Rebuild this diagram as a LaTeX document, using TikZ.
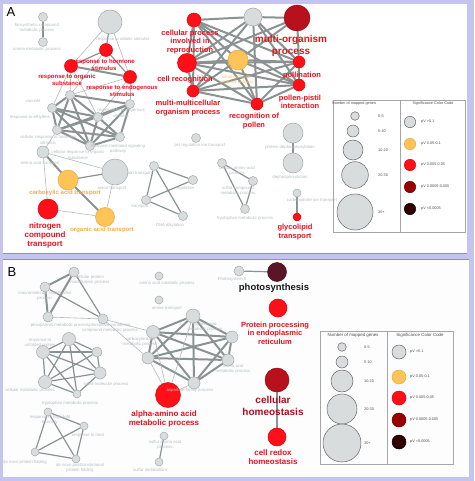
\documentclass[tikz,border=0pt]{standalone}
\usepackage{fontspec}
\setmainfont{Liberation Sans}
\usetikzlibrary{backgrounds}
\definecolor{lav}{HTML}{C4C4EE}
\definecolor{pline}{HTML}{8C8CD8}
\definecolor{gfill}{HTML}{D8DCDC}
\definecolor{gdraw}{HTML}{A4AAAA}
\definecolor{rfill}{HTML}{FF1018}
\definecolor{rdraw}{HTML}{E00010}
\definecolor{ofill}{HTML}{FFC458}
\definecolor{odraw}{HTML}{E8A840}
\definecolor{drfill}{HTML}{B8101C}
\definecolor{dkfill}{HTML}{5A1626}
\definecolor{labred}{HTML}{E8101C}
\definecolor{labdr}{HTML}{A8101C}
\definecolor{labor}{HTML}{F0B040}
\definecolor{faint}{HTML}{B8BEBE}
\definecolor{edgec}{HTML}{8A9292}
\definecolor{edgelt}{HTML}{B4BABA}
\definecolor{legtxt}{HTML}{505050}
\newcommand{\nd}[5]{\node[#5,minimum size=#4*2] (#1) at (#2,#3) {};}
\tikzset{
  ng/.style={circle,inner sep=0pt,fill=gfill,draw=gdraw,line width=0.5pt},
  nr/.style={ng,fill=rfill,draw=rdraw},
  nor/.style={ng,fill=ofill,draw=odraw},
  ndr/.style={ng,fill=drfill,draw=drfill!80!black},
  ndk/.style={ng,fill=dkfill,draw=dkfill!80!black},
  lg/.style={ng,draw=gray!80!black},
  lbl/.style={font=\bfseries\fontsize{7.5}{8.6}\selectfont,text=labred,align=center,inner sep=0pt},
  lbls/.style={font=\bfseries\fontsize{6}{7}\selectfont,text=labred,align=center,inner sep=0pt},
  lblo/.style={font=\bfseries\fontsize{6}{7}\selectfont,text=labor,align=center,inner sep=0pt},
  flbl/.style={font=\fontsize{4.3}{5.2}\selectfont,text=faint,align=center,inner sep=0pt},
  ltx/.style={font=\fontsize{3.8}{4.5}\selectfont,text=legtxt,inner sep=0pt,anchor=west},
  lhd/.style={font=\fontsize{3.8}{4.5}\selectfont,text=legtxt,inner sep=0pt},
  ea/.style={draw=edgec,line width=2pt},
  eb/.style={draw=edgec,line width=1.2pt},
  ec/.style={draw=edgelt,line width=0.6pt},
}
\begin{document}
\begin{tikzpicture}[x=1pt,y=-1pt]
\useasboundingbox (0,0) rectangle (474,481);
\begin{pgfonlayer}{background}
\fill[lav] (0,0) rectangle (474,481);
\fill[white] (3,4) rectangle (467,253);
\draw[pline,line width=0.8pt] (3,253) -- (467,253);
\fill[white!96!lav] (3,259) rectangle (469,477);
\draw[pline,line width=0.8pt] (3,259) -- (469,259);
\end{pgfonlayer}
% ---------------- Panel A ----------------
\node[font=\fontsize{13}{13}\selectfont\rmfamily] (A) at (11,12) {A};
% top-left
\nd{a1}{43}{17}{4.5}{ng}
\nd{a2}{43}{42}{4.5}{ng}
\nd{a3}{110}{22}{12}{ng}
\nd{hor}{106}{50}{6.5}{nr}
\nd{org}{71}{66}{6.5}{nr}
\nd{endo}{130}{77}{6.5}{nr}
\nd{k1}{70}{95}{4.5}{ng}
\nd{k2}{52}{108}{4.5}{ng}
\nd{k3}{130}{104}{4.5}{ng}
\nd{k4}{98}{117}{4.5}{ng}
\nd{k5}{57}{130}{4.5}{ng}
\nd{k6}{120}{137}{4.5}{ng}
\nd{k7}{90}{146}{4.5}{ng}
\nd{t1}{43}{152}{6}{ng}
\nd{carb}{68}{180}{10}{nor}
\nd{t2}{115}{172}{13}{ng}
\nd{nitro}{48}{209}{10}{nr}
\nd{oacid}{105}{217}{9.5}{nor}
\nd{q1}{154}{166}{4.5}{ng}
\nd{q2}{193}{180}{4.5}{ng}
\nd{q3}{183}{216}{4.5}{ng}
\nd{q4}{146}{200}{4.5}{ng}
\nd{s1}{196}{138}{4.5}{ng}
\nd{r1}{222}{163}{4.5}{ng}
\nd{r2}{253}{181}{4.5}{ng}
\nd{r3}{245}{209}{4.5}{ng}
\nd{p1}{293}{133}{10}{ng}
\nd{p2}{293}{163}{10}{ng}
\nd{g1}{297}{193}{4}{ng}
\nd{glyco}{297}{217}{4}{nr}
\nd{c1}{194}{20}{7}{nr}
\nd{c2}{253}{17}{9}{ng}
\nd{c3}{297}{18}{13}{ndr}
\nd{c4}{187}{63}{9.5}{nr}
\nd{c5}{238}{60}{10}{nor}
\nd{c6}{299}{62}{6}{nr}
\nd{c7}{193}{91}{6}{nr}
\nd{c8}{299}{85}{6}{nr}
\nd{c9}{257}{104}{6}{nr}
% labels A
\node[flbl] (la1) at (37,28) {biosynthetic compound\\metabolic process};
\node[flbl] (la2) at (37,49) {amine metabolic process};
\node[flbl] (la3) at (123,39) {response to abiotic stimulus};
\node[lbls] (lhor) at (104,65) {response to hormone\\stimulus};
\node[lbls] (lorg) at (67,80) {response to organic\\substance};
\node[lbls] (lendo) at (122,91) {response to endogenous\\stimulus};
\node[flbl] (lk2) at (33,101) {vacuole};
\node[flbl] (lk5) at (30,117) {response to ethylene};
\node[flbl] (lk3) at (121,113) {response to endogenous\\stimulus};
\node[flbl] (lk6) at (48,140) {cellular response to hormone\\stimulus};
\node[flbl] (lk7) at (118,149) {hormone-mediated signaling\\pathway};
\node[flbl] (lk8) at (78,155) {cellular response to organic\\substance};
\node[flbl] (lt1) at (40,163) {amino acid transport};
\node[flbl] (lt2) at (140,173) {ion transport};
\node[flbl] (lt3) at (112,188) {anion transport};
\node[flbl] (lt4) at (140,207) {transport};
\node[lblo] (lcarb) at (65,193) {carboxylic acid transport};
\node[font=\bfseries\fontsize{8}{9}\selectfont,text=labred,align=center,inner sep=0pt] (lnitro) at (45,235) {nitrogen\\compound\\transport};
\node[lblo] (loacid) at (102,230) {organic acid transport};
\node[flbl] (ls1) at (200,145) {pH regulation ion transport};
\node[flbl] (lq2) at (185,188) {regulation};
\node[flbl] (lr1) at (237,171) {cellular amino acid\\process};
\node[flbl] (lr2) at (238,191) {sulfur compound\\metabolic process};
\node[flbl] (lr3) at (245,218) {tryptophan metabolic process};
\node[flbl] (lq3) at (170,225) {DNA alkylation};
\node[flbl] (lp1) at (290,147) {protein dephosphorylation};
\node[flbl] (lp2) at (290,177) {dephosphorylation};
\node[flbl] (lg1) at (312,200) {carbohydrate ion transport};
\node[lbl] (lglyco) at (295,232) {glycolipid\\transport};
\node[lbl] (lc1) at (190,42) {cellular process\\involved in\\reproduction};
\node[font=\bfseries\fontsize{10}{11.5}\selectfont,text=labred,align=center,inner sep=0pt] (lc3) at (291,46) {multi-organism\\process};
\node[lbl] (lc4) at (185,80) {cell recognition};
\node[flbl,text=labor!70!white] (lc5) at (236,80) {small molecule\\metabolic process};
\node[lbl] (lc6) at (302,76) {pollination};
\node[lbl] (lc8) at (300,102) {pollen-pistil\\interaction};
\node[lbl] (lc7) at (188,108) {multi-multicellular\\organism process};
\node[lbl] (lc9) at (254,121) {recognition of\\pollen};
% legend A
\draw[gray!70,line width=0.4pt] (333,100) rectangle (465,232);
\draw[gray!70,line width=0.4pt] (400,100) -- (400,232);
\node[lhd] (lhA1) at (354,104) {Number of mapped genes};
\node[lhd] (lhA2) at (433,104) {Significance Color Code};
\nd{sa1}{355}{116}{4.3}{lg}
\nd{sa2}{353}{131}{6}{lg}
\nd{sa3}{353}{150}{10}{lg}
\nd{sa4}{355}{175}{13.3}{lg}
\nd{sa5}{355}{212}{18}{lg}
\node[ltx] (tsa1) at (378,116) {0-5};
\node[ltx] (tsa2) at (378,131) {5-10};
\node[ltx] (tsa3) at (378,150) {10-20};
\node[ltx] (tsa4) at (378,175) {20-30};
\node[ltx] (tsa5) at (378,212) {30+};
\nd{ca1}{410}{122}{5.7}{lg}
\nd{ca2}{410}{144}{5.7}{nor}
\nd{ca3}{410}{165}{5.7}{nr}
\nd{ca4}{410}{187}{5.7}{ng,fill=red!60!black,draw=red!40!black}
\nd{ca5}{410}{209}{5.7}{ng,fill=black!80!red,draw=black}
\node[ltx] (tca1) at (421,122) {pV >0.1};
\node[ltx] (tca2) at (421,144) {pV 0.05-0.1};
\node[ltx] (tca3) at (421,165) {pV 0.005-0.05};
\node[ltx] (tca4) at (421,187) {pV 0.0005-0.005};
\node[ltx] (tca5) at (421,209) {pV <0.0005};
% ---------------- Panel B ----------------
\node[font=\fontsize{13}{13}\selectfont\rmfamily] (B) at (12,272) {B};
\nd{b1}{74}{272}{5}{ng}
\nd{b2}{45}{287}{5}{ng}
\nd{b3}{48}{317}{5}{ng}
\nd{b4}{103}{319}{5}{ng}
\nd{b5}{159}{276}{4}{ng}
\nd{b6}{159}{300}{4}{ng}
\nd{ph1}{239}{271}{5}{ng}
\nd{photo}{277}{272}{9.5}{ndk}
\nd{prot}{278}{308}{9}{nr}
\nd{m1}{193}{316}{7}{ng}
\nd{m2}{153}{332}{6.5}{ng}
\nd{m3}{232}{337}{6}{ng}
\nd{m4}{228}{360}{6}{ng}
\nd{m5}{148}{358}{6}{ng}
\nd{m6}{194}{383}{6}{ng}
\nd{alpha}{168}{395}{12.5}{nr}
\nd{n1}{164}{436}{4}{ng}
\nd{n2}{159}{462}{4}{ng}
\nd{hom}{277}{380}{12}{ndr}
\nd{redox}{277}{437}{9}{nr}
\nd{l1}{69}{339}{6.5}{ng}
\nd{l2}{43}{352}{6.5}{ng}
\nd{l3}{97}{352}{5}{ng}
\nd{l4}{45}{382}{6.5}{ng}
\nd{l5}{100}{373}{6}{ng}
\nd{l6}{77}{394}{4}{ng}
\nd{u1}{48}{412}{4}{ng}
\nd{u2}{84}{426}{4}{ng}
\nd{u3}{35}{452}{4}{ng}
\nd{u4}{76}{459}{4}{ng}
% labels B
\node[font=\bfseries\fontsize{9.5}{10}\selectfont,text=black!90,inner sep=0pt] (lphoto) at (274,288) {photosynthesis};
\node[flbl] (lph1) at (232,279) {Photosystem II};
\node[lbl] (lprot) at (275,333) {Protein processing\\in endoplasmic\\reticulum};
\node[font=\bfseries\fontsize{10}{11.5}\selectfont,text=labdr,align=center,inner sep=0pt] (lhom) at (273,406) {cellular\\homeostasis};
\node[lbl,font=\bfseries\fontsize{8}{9.5}\selectfont] (lredox) at (273,457) {cell redox\\homeostasis};
\node[lbl,font=\bfseries\fontsize{8}{9.2}\selectfont] (lalpha) at (164,419) {alpha-amino acid\\metabolic process};
\node[flbl] (lb1) at (90,280) {cellular protein\\modification process};
\node[flbl] (lb2) at (45,296) {macromolecule modification\\process};
\node[flbl] (lb3) at (60,325) {phosphorus metabolic process};
\node[flbl] (lb4) at (110,328) {phosphate-containing\\compound metabolic process};
\node[flbl] (lb5) at (167,283) {amino acid catabolic process};
\node[flbl] (lb6) at (167,308) {amine transport};
\node[flbl] (lm1) at (205,327) {organic acid\\metabolic process};
\node[flbl] (lm4) at (233,369) {amino acid\\metabolic process};
\node[flbl] (lm6) at (190,390) {aspartate family process};
\node[flbl] (lm2) at (140,342) {carboxylic acid\\metabolic process};
\node[flbl] (ln1) at (165,445) {sulfur amino acid\\process};
\node[flbl] (ln2) at (150,470) {sulfur metabolism};
\node[flbl] (ll1) at (40,343) {response to\\unfolded protein};
\node[flbl] (ll2) at (30,390) {cellular metabolic process};
\node[flbl] (ll3) at (106,384) {small molecule process};
\node[flbl] (ll6) at (70,403) {tryptophan metabolic process};
\node[flbl] (lu1) at (50,420) {response to high light\\intensity};
\node[flbl] (lu2) at (88,435) {response to heat};
\node[flbl] (lu3) at (25,462) {de novo protein folding};
\node[flbl] (lu4) at (80,468) {de novo posttranslational\\protein folding};
% legend B
\draw[gray!70,line width=0.4pt] (320,331) rectangle (453,464);
\draw[gray!70,line width=0.4pt] (387,331) -- (387,464);
\node[lhd,font=\fontsize{4.4}{5}\selectfont] (lhB1) at (353,335) {Number of mapped genes};
\node[lhd,font=\fontsize{4.4}{5}\selectfont] (lhB2) at (420,335) {Significance Color Code};
\nd{sb1}{342}{347}{4.3}{lg}
\nd{sb2}{342}{362}{6}{lg}
\nd{sb3}{342}{381}{11}{lg}
\nd{sb4}{342}{409}{15}{lg}
\nd{sb5}{342}{443}{19}{lg}
\node[ltx] (tsb1) at (364,347) {0-5};
\node[ltx] (tsb2) at (364,362) {5-10};
\node[ltx] (tsb3) at (364,381) {10-20};
\node[ltx] (tsb4) at (364,409) {20-30};
\node[ltx] (tsb5) at (364,443) {30+};
\nd{cb1}{399}{352}{7}{lg}
\nd{cb2}{399}{377}{7}{nor}
\nd{cb3}{399}{398}{7}{nr}
\nd{cb4}{399}{420}{7}{ng,fill=red!60!black,draw=red!40!black}
\nd{cb5}{399}{442}{7}{ng,fill=black!80!red,draw=black}
\node[ltx] (tcb1) at (410,352) {pV >0.1};
\node[ltx] (tcb2) at (410,377) {pV 0.05-0.1};
\node[ltx] (tcb3) at (410,398) {pV 0.005-0.05};
\node[ltx] (tcb4) at (410,420) {pV 0.0005-0.005};
\node[ltx] (tcb5) at (410,442) {pV <0.0005};
% ---------------- edges ----------------
\begin{pgfonlayer}{background}
\draw[ea] (a1) -- (a2);
\draw[eb] (a3) -- (hor); \draw[ec] (a3) -- (org); \draw[ec] (a3) -- (endo);
\draw[eb] (hor) -- (org); \draw[eb] (hor) -- (endo); \draw[ea] (org) -- (endo);
\draw[ec] (org) -- (k1); \draw[ec] (org) -- (k2); \draw[ec] (org) -- (k4);
\draw[ec] (endo) -- (k3); \draw[ec] (endo) -- (k1); \draw[ec] (endo) -- (k4); \draw[ec] (hor) -- (k1);
\foreach \u/\v in {k1/k2,k1/k3,k1/k4,k1/k5,k1/k7,k2/k4,k2/k5,k2/k6,k2/k7,k3/k4,k3/k5,k3/k6,k3/k7,k4/k5,k4/k6,k4/k7,k5/k7,k6/k7,k5/k6}
  {\draw[ea] (\u) -- (\v);}
\draw[ec] (k5) -- (t1);
\draw[ea] (t1) -- (carb); \draw[ec] (t1) -- (t2); \draw[ec] (t1) -- (nitro);
\draw[ea] (carb) -- (oacid); \draw[eb] (carb) -- (t2); \draw[ec] (t2) -- (oacid); \draw[ec] (nitro) -- (oacid);
\foreach \u/\v in {q1/q2,q1/q3,q1/q4,q2/q4,q4/q3}{\draw[eb] (\u) -- (\v);}
\foreach \u/\v in {r1/r2,r2/r3,r1/r3}{\draw[eb] (\u) -- (\v);}
\draw[eb] (p1) -- (p2);
\draw[ea] (g1) -- (glyco);
\foreach \u/\v in {c1/c2,c2/c3,c1/c4,c1/c5,c1/c6,c1/c8,c1/c9,c2/c4,c2/c6,c2/c7,c2/c8,c2/c9,c3/c5,c3/c6,c3/c4,c4/c5,c4/c6,c4/c7,c4/c8,c4/c9,c5/c7,c5/c8,c5/c9,c6/c8,c7/c9,c7/c8,c8/c9,c6/c7,c6/c9,c5/c6,c1/c7}
  {\draw[ea] (\u) -- (\v);}
% B
\draw[ea] (b1) -- (b2); \draw[ea] (b2) -- (b3); \draw[ea] (b1) -- (b3);
\draw[eb] (b1) -- (b4); \draw[eb] (b2) -- (b4); \draw[ec] (b3) -- (b4);
\draw[ec] (b4) -- (m2); \draw[ec] (b4) -- (m5);
\draw[eb] (ph1) -- (photo);
\foreach \u/\v in {m1/m2,m1/m3,m1/m4,m1/m5,m1/m6,m2/m3,m2/m4,m2/m5,m2/m6,m3/m4,m3/m5,m3/m6,m4/m5,m4/m6,m5/m6}
  {\draw[ea] (\u) -- (\v);}
\draw[ec] (m5) -- (alpha); \draw[ec] (m2) -- (alpha); \draw[ec] (m6) -- (alpha); \draw[ec] (m1) -- (alpha);
\draw[eb] (n1) -- (n2);
\draw[eb] (hom) -- (redox);
\foreach \u/\v in {l1/l2,l1/l3,l1/l4,l1/l5,l2/l3,l2/l4,l2/l5,l3/l4,l3/l5,l4/l5,l4/l6,l5/l6,l1/l6,l2/l6}
  {\draw[eb] (\u) -- (\v);}
\foreach \u/\v in {u1/u2,u1/u3,u1/u4,u2/u3,u2/u4,u3/u4}{\draw[eb] (\u) -- (\v);}
\end{pgfonlayer}
\end{tikzpicture}
\end{document}
